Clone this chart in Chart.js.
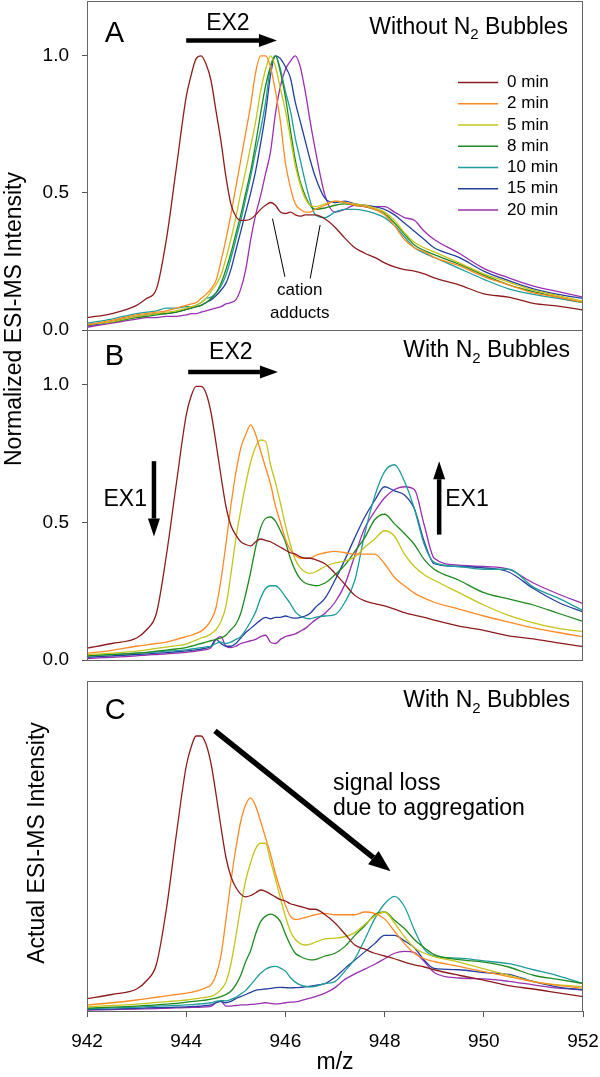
<!DOCTYPE html>
<html>
<head>
<meta charset="utf-8">
<script src="https://cdn.jsdelivr.net/npm/chart.js@4.4.1/dist/chart.umd.min.js"></script>
<style>
  html, body { margin: 0; padding: 0; background: #fff; }
  #wrap { position: relative; width: 600px; height: 1077px; overflow: hidden; font-family: "Liberation Sans", Arial, sans-serif; }
  .panel { position: absolute; left: 0; width: 600px; }
  .ytitle { position: absolute; text-align: center; white-space: nowrap; transform: rotate(-90deg); color: #000; }
</style>
</head>
<body>
<div id="wrap">
  <div class="panel" style="top:0;height:340px"><canvas id="chartA"></canvas></div>
  <div class="panel" style="top:330px;height:340px"><canvas id="chartB"></canvas></div>
  <div class="panel" style="top:670px;height:407px"><canvas id="chartC"></canvas></div>
  <div class="ytitle" style="left:-187px;top:306px;width:400px;height:26px;line-height:26px;font-size:23px">Normalized ESI-MS Intensity</div>
  <div class="ytitle" style="left:-164px;top:830px;width:400px;height:26px;line-height:26px;font-size:23px">Actual ESI-MS Intensity</div>
</div>
<script>
// m/z sampling points shared by every trace
const mz = [942.0, 942.5, 943.0, 943.2, 943.4, 943.6, 943.8,
  944.0, 944.1, 944.2, 944.3, 944.4, 944.5, 944.6, 944.7, 944.8, 944.9,
  945.0, 945.1, 945.2, 945.3, 945.4, 945.5, 945.6, 945.7, 945.8, 945.9,
  946.0, 946.1, 946.2, 946.3, 946.4, 946.5, 946.6,
  946.8, 947.0, 947.2, 947.4, 947.6, 947.8, 948.0,
  948.2, 948.4, 948.6, 948.8, 949.0,
  949.5, 950.0, 950.5, 951.0, 951.5, 952.0];

const times = ['0 min', '2 min', '5 min', '8 min', '10 min', '15 min', '20 min'];
const colors = ['#8E1C1C', '#FF8A24', '#C4C41C', '#1F8A1F', '#1F9C9C', '#24409E', '#9A2FB0'];
const yTicks = [0, 0.5, 1.0];
const xTicks = [942, 944, 946, 948, 950, 952];

// A: normalized, without N2 bubbles
const normA0 = [0.045, 0.06, 0.09, 0.115, 0.15, 0.33, 0.59,
  0.85, 0.93, 0.99, 1.0, 0.97, 0.91, 0.80, 0.69, 0.56, 0.46,
  0.415, 0.40, 0.40, 0.405, 0.42, 0.44, 0.455, 0.465, 0.455, 0.43,
  0.425, 0.43, 0.42, 0.415, 0.42, 0.42, 0.42,
  0.405, 0.375, 0.335, 0.30, 0.28, 0.265, 0.245,
  0.23, 0.22, 0.215, 0.205, 0.19,
  0.165, 0.132, 0.12, 0.097, 0.087, 0.073];
const normA2 = [0.018, 0.035, 0.055, 0.06, 0.065, 0.07, 0.08,
  0.09, 0.095, 0.10, 0.115, 0.13, 0.15, 0.18, 0.25, 0.33, 0.42,
  0.52, 0.62, 0.72, 0.82, 0.94, 1.0, 1.0, 0.96, 0.87, 0.76,
  0.61, 0.52, 0.46, 0.44, 0.43, 0.43, 0.44,
  0.455, 0.47, 0.465, 0.455, 0.45, 0.44, 0.42,
  0.38, 0.33, 0.30, 0.285, 0.265,
  0.235, 0.195, 0.165, 0.135, 0.12, 0.10];
const normA5 = [0.02, 0.03, 0.05, 0.055, 0.06, 0.065, 0.07,
  0.08, 0.085, 0.09, 0.10, 0.115, 0.14, 0.165, 0.20, 0.26, 0.33,
  0.41, 0.50, 0.58, 0.67, 0.76, 0.87, 0.95, 1.0, 0.96, 0.88,
  0.80, 0.70, 0.60, 0.53, 0.48, 0.455, 0.45,
  0.46, 0.47, 0.465, 0.46, 0.455, 0.445, 0.43,
  0.40, 0.355, 0.32, 0.30, 0.285,
  0.245, 0.205, 0.175, 0.145, 0.125, 0.105];
const normA8 = [0.02, 0.03, 0.045, 0.05, 0.055, 0.06, 0.065,
  0.075, 0.08, 0.085, 0.09, 0.10, 0.115, 0.135, 0.17, 0.22, 0.28,
  0.35, 0.42, 0.50, 0.58, 0.68, 0.79, 0.89, 0.96, 1.0, 0.94,
  0.85, 0.73, 0.62, 0.54, 0.49, 0.455, 0.44,
  0.445, 0.455, 0.46, 0.455, 0.45, 0.44, 0.425,
  0.39, 0.35, 0.31, 0.29, 0.275,
  0.24, 0.20, 0.165, 0.14, 0.12, 0.10];
const normA10 = [0.025, 0.04, 0.06, 0.065, 0.07, 0.08, 0.08,
  0.085, 0.085, 0.09, 0.10, 0.115, 0.12, 0.135, 0.16, 0.20, 0.26,
  0.33, 0.40, 0.48, 0.56, 0.65, 0.73, 0.83, 0.96, 1.0, 0.95,
  0.87, 0.80, 0.70, 0.62, 0.54, 0.47, 0.42,
  0.41, 0.43, 0.44, 0.44, 0.435, 0.425, 0.41,
  0.38, 0.34, 0.30, 0.28, 0.265,
  0.225, 0.185, 0.15, 0.13, 0.115, 0.10];
const normA15 = [0.015, 0.03, 0.05, 0.055, 0.06, 0.06, 0.065,
  0.075, 0.08, 0.085, 0.09, 0.10, 0.11, 0.125, 0.145, 0.17, 0.22,
  0.29, 0.36, 0.43, 0.50, 0.58, 0.68, 0.79, 0.93, 1.0, 0.99,
  0.96, 0.92, 0.83, 0.76, 0.69, 0.62, 0.56,
  0.48, 0.465, 0.47, 0.46, 0.455, 0.45, 0.44,
  0.42, 0.39, 0.36, 0.33, 0.30,
  0.265, 0.215, 0.18, 0.15, 0.13, 0.115];
const normA20 = [0.01, 0.025, 0.04, 0.045, 0.045, 0.05, 0.05,
  0.055, 0.06, 0.06, 0.065, 0.07, 0.075, 0.08, 0.085, 0.095, 0.10,
  0.11, 0.15, 0.22, 0.33, 0.42, 0.49, 0.57, 0.65, 0.79, 0.89,
  0.95, 0.98, 1.0, 0.96, 0.87, 0.76, 0.66,
  0.49, 0.43, 0.44, 0.455, 0.45, 0.45, 0.45,
  0.43, 0.41, 0.40, 0.36, 0.33,
  0.28, 0.225, 0.19, 0.16, 0.14, 0.12];

// B: normalized, with N2 bubbles
const normB0 = [0.043, 0.06, 0.08, 0.11, 0.17, 0.38, 0.64,
  0.89, 0.96, 0.995, 0.995, 0.97, 0.90, 0.79, 0.67, 0.56, 0.49,
  0.455, 0.43, 0.42, 0.415, 0.43, 0.44, 0.435, 0.43, 0.42, 0.41,
  0.40, 0.39, 0.385, 0.375, 0.37, 0.37, 0.365,
  0.35, 0.315, 0.275, 0.235, 0.215, 0.205, 0.197,
  0.185, 0.172, 0.163, 0.155, 0.145,
  0.123, 0.108, 0.088, 0.077, 0.062, 0.049];
const normB2 = [0.024, 0.035, 0.05, 0.055, 0.06, 0.065, 0.075,
  0.085, 0.09, 0.097, 0.105, 0.12, 0.145, 0.19, 0.29, 0.42, 0.56,
  0.68, 0.77, 0.82, 0.855, 0.82, 0.76, 0.70, 0.64, 0.56, 0.50,
  0.44, 0.40, 0.38, 0.37, 0.37, 0.37, 0.38,
  0.39, 0.395, 0.39, 0.385, 0.385, 0.385, 0.35,
  0.30, 0.27, 0.243, 0.225, 0.21,
  0.185, 0.16, 0.138, 0.117, 0.10, 0.085];
const normB5 = [0.02, 0.025, 0.032, 0.037, 0.042, 0.047, 0.052,
  0.058, 0.065, 0.072, 0.08, 0.085, 0.095, 0.11, 0.14, 0.195, 0.31,
  0.44, 0.545, 0.64, 0.72, 0.775, 0.80, 0.795, 0.71, 0.645, 0.57,
  0.49, 0.42, 0.365, 0.335, 0.32, 0.315, 0.32,
  0.34, 0.353, 0.36, 0.375, 0.41, 0.44, 0.47,
  0.45, 0.385, 0.34, 0.31, 0.29,
  0.245, 0.20, 0.162, 0.135, 0.115, 0.103];
const normB8 = [0.015, 0.02, 0.025, 0.028, 0.032, 0.036, 0.04,
  0.045, 0.05, 0.055, 0.06, 0.065, 0.07, 0.075, 0.08, 0.09, 0.11,
  0.13, 0.17, 0.24, 0.32, 0.41, 0.48, 0.515, 0.52, 0.505, 0.47,
  0.43, 0.37, 0.325, 0.295, 0.28, 0.274, 0.27,
  0.28, 0.31, 0.345, 0.395, 0.445, 0.51, 0.53,
  0.495, 0.46, 0.42, 0.365, 0.33,
  0.29, 0.245, 0.222, 0.20, 0.17, 0.14];
const normB10 = [0.015, 0.02, 0.025, 0.027, 0.03, 0.032, 0.034,
  0.037, 0.04, 0.042, 0.045, 0.048, 0.05, 0.06, 0.065, 0.06, 0.065,
  0.075, 0.085, 0.11, 0.14, 0.175, 0.225, 0.26, 0.27, 0.27, 0.255,
  0.23, 0.205, 0.175, 0.16, 0.152, 0.15, 0.155,
  0.16, 0.165, 0.21, 0.29, 0.46, 0.595, 0.685,
  0.71, 0.65, 0.55, 0.42, 0.355,
  0.34, 0.33, 0.33, 0.265, 0.225, 0.18];
const normB15 = [0.01, 0.015, 0.02, 0.022, 0.025, 0.027, 0.03,
  0.033, 0.035, 0.037, 0.04, 0.043, 0.05, 0.075, 0.06, 0.05, 0.05,
  0.06, 0.08, 0.10, 0.115, 0.13, 0.145, 0.155, 0.15, 0.155, 0.155,
  0.16, 0.155, 0.152, 0.155, 0.16, 0.17, 0.19,
  0.225, 0.29, 0.365, 0.445, 0.52, 0.58, 0.63,
  0.615, 0.60, 0.55, 0.43, 0.35,
  0.34, 0.335, 0.32, 0.26, 0.21, 0.175];
const normB20 = [0.005, 0.01, 0.015, 0.018, 0.02, 0.022, 0.025,
  0.028, 0.03, 0.032, 0.035, 0.038, 0.045, 0.075, 0.085, 0.05, 0.045,
  0.05, 0.06, 0.065, 0.07, 0.075, 0.085, 0.09, 0.065, 0.06, 0.075,
  0.085, 0.09, 0.095, 0.105, 0.115, 0.13, 0.145,
  0.17, 0.21, 0.275, 0.38, 0.48, 0.54, 0.59,
  0.62, 0.63, 0.62, 0.49, 0.37,
  0.345, 0.34, 0.33, 0.28, 0.24, 0.205];

// C: actual intensity, with N2 bubbles (same units as 0 min peak = 1)
const actC0 = [0.045, 0.06, 0.08, 0.11, 0.17, 0.37, 0.64,
  0.89, 0.96, 1.0, 1.0, 0.97, 0.90, 0.79, 0.67, 0.56, 0.49,
  0.45, 0.425, 0.415, 0.42, 0.43, 0.44, 0.435, 0.425, 0.415, 0.405,
  0.40, 0.39, 0.385, 0.38, 0.375, 0.37, 0.37,
  0.35, 0.32, 0.28, 0.24, 0.225, 0.21, 0.20,
  0.19, 0.178, 0.168, 0.16, 0.15,
  0.13, 0.112, 0.092, 0.08, 0.066, 0.052];
const actC2 = [0.022, 0.03, 0.04, 0.045, 0.05, 0.055, 0.06,
  0.065, 0.068, 0.072, 0.078, 0.085, 0.095, 0.13, 0.20, 0.33, 0.47,
  0.59, 0.69, 0.75, 0.775, 0.745, 0.69, 0.63, 0.57, 0.50, 0.44,
  0.385, 0.345, 0.333, 0.335, 0.34, 0.345, 0.35,
  0.355, 0.35, 0.35, 0.35, 0.36, 0.355, 0.335,
  0.29, 0.245, 0.21, 0.19, 0.18,
  0.162, 0.143, 0.125, 0.107, 0.093, 0.083];
const actC5 = [0.015, 0.02, 0.025, 0.028, 0.031, 0.034, 0.037,
  0.04, 0.042, 0.045, 0.048, 0.05, 0.053, 0.062, 0.078, 0.105, 0.17,
  0.27, 0.38, 0.475, 0.54, 0.59, 0.61, 0.61, 0.545, 0.48, 0.41,
  0.345, 0.29, 0.26, 0.245, 0.24, 0.243, 0.25,
  0.262, 0.265, 0.27, 0.285, 0.315, 0.345, 0.36,
  0.32, 0.27, 0.23, 0.21, 0.198,
  0.178, 0.153, 0.13, 0.107, 0.095, 0.089];
const actC8 = [0.01, 0.014, 0.018, 0.02, 0.022, 0.025, 0.028,
  0.032, 0.034, 0.036, 0.038, 0.04, 0.043, 0.047, 0.052, 0.06, 0.072,
  0.095, 0.13, 0.18, 0.22, 0.28, 0.325, 0.345, 0.352, 0.345, 0.325,
  0.28, 0.24, 0.21, 0.198, 0.19, 0.186, 0.187,
  0.20, 0.21, 0.235, 0.275, 0.31, 0.35, 0.36,
  0.33, 0.30, 0.26, 0.23, 0.205,
  0.187, 0.178, 0.16, 0.13, 0.115, 0.10];
const actC10 = [0.008, 0.011, 0.014, 0.016, 0.018, 0.019, 0.02,
  0.022, 0.023, 0.025, 0.026, 0.028, 0.03, 0.035, 0.038, 0.037, 0.042,
  0.05, 0.062, 0.075, 0.095, 0.117, 0.137, 0.152, 0.16, 0.162, 0.156,
  0.145, 0.122, 0.105, 0.095, 0.09, 0.088, 0.09,
  0.10, 0.107, 0.145, 0.19, 0.26, 0.335, 0.39,
  0.417, 0.38, 0.295, 0.225, 0.20,
  0.192, 0.182, 0.172, 0.15, 0.128, 0.10];
const actC15 = [0.005, 0.007, 0.01, 0.011, 0.012, 0.013, 0.014,
  0.015, 0.016, 0.017, 0.018, 0.02, 0.022, 0.03, 0.035, 0.03, 0.035,
  0.045, 0.052, 0.06, 0.068, 0.075, 0.078, 0.08, 0.082, 0.085, 0.086,
  0.085, 0.084, 0.085, 0.086, 0.088, 0.09, 0.093,
  0.10, 0.123, 0.155, 0.185, 0.215, 0.245, 0.275,
  0.275, 0.255, 0.23, 0.185, 0.155,
  0.15, 0.14, 0.133, 0.107, 0.087, 0.077];
const actC20 = [0.003, 0.005, 0.007, 0.008, 0.009, 0.01, 0.011,
  0.012, 0.013, 0.013, 0.014, 0.015, 0.017, 0.03, 0.035, 0.018, 0.018,
  0.02, 0.022, 0.022, 0.024, 0.025, 0.028, 0.03, 0.028, 0.026, 0.027,
  0.03, 0.032, 0.033, 0.037, 0.042, 0.047, 0.052,
  0.065, 0.085, 0.115, 0.135, 0.152, 0.17, 0.19,
  0.21, 0.217, 0.212, 0.18, 0.14,
  0.12, 0.117, 0.108, 0.095, 0.083, 0.077];

const FONT = '"Liberation Sans", Arial, sans-serif';
Chart.defaults.font.family = FONT;
Chart.defaults.color = '#000';

function font(px) { return px + 'px ' + FONT; }

function arrow(ctx, x1, y1, x2, y2, w, head, headW) {
  const a = Math.atan2(y2 - y1, x2 - x1);
  const bx = x2 - head * Math.cos(a), by = y2 - head * Math.sin(a);
  ctx.save();
  ctx.strokeStyle = '#000'; ctx.fillStyle = '#000'; ctx.lineWidth = w;
  ctx.beginPath(); ctx.moveTo(x1, y1); ctx.lineTo(bx, by); ctx.stroke();
  ctx.beginPath(); ctx.moveTo(x2, y2);
  ctx.lineTo(bx + headW / 2 * Math.sin(a), by - headW / 2 * Math.cos(a));
  ctx.lineTo(bx - headW / 2 * Math.sin(a), by + headW / 2 * Math.cos(a));
  ctx.closePath(); ctx.fill();
  ctx.restore();
}

// "<prefix> N2 Bubbles" with subscript, right aligned
function n2Title(ctx, prefix, xr, ym) {
  ctx.font = font(23); const w1 = ctx.measureText(prefix + ' N').width; const w3 = ctx.measureText(' Bubbles').width;
  ctx.font = font(15); const w2 = ctx.measureText('2').width;
  let x = xr - (w1 + w2 + w3);
  ctx.textAlign = 'left'; ctx.textBaseline = 'middle';
  ctx.font = font(23); ctx.fillText(prefix + ' N', x, ym); x += w1;
  ctx.font = font(15); ctx.fillText('2', x, ym + 8); x += w2;
  ctx.font = font(23); ctx.fillText(' Bubbles', x, ym);
}

function text(ctx, s, x, y, px, align) {
  ctx.font = font(px); ctx.textAlign = align || 'center'; ctx.textBaseline = 'middle';
  ctx.fillText(s, x, y);
}

const notes = {
  chartA(c, ctx, X, Y) {
    text(ctx, 'A', X(942.36), Y(1.078), 29, 'left');
    text(ctx, 'EX2', X(944.84), Y(1.118), 23);
    arrow(ctx, X(944.0), Y(1.056), X(945.83), Y(1.056), 4.5, 18, 13);
    n2Title(ctx, 'Without', X(951.7), Y(1.104));
    times.forEach((t, i) => {
      const v = 0.903 - i * 0.0776;
      ctx.save(); ctx.strokeStyle = colors[i]; ctx.lineWidth = 1.5;
      ctx.beginPath(); ctx.moveTo(X(949.48), Y(v)); ctx.lineTo(X(950.29), Y(v)); ctx.stroke(); ctx.restore();
      text(ctx, t, X(950.47), Y(v), 17, 'left');
    });
    ctx.save(); ctx.strokeStyle = '#000'; ctx.lineWidth = 1;
    ctx.beginPath();
    ctx.moveTo(X(945.74), Y(0.406)); ctx.lineTo(X(945.99), Y(0.194));
    ctx.moveTo(X(946.70), Y(0.383)); ctx.lineTo(X(946.50), Y(0.188));
    ctx.stroke(); ctx.restore();
    text(ctx, 'cation', X(946.29), Y(0.146), 17);
    text(ctx, 'adducts', X(946.29), Y(0.062), 17);
  },
  chartB(c, ctx, X, Y) {
    text(ctx, 'B', X(942.36), Y(1.102), 29, 'left');
    text(ctx, 'EX2', X(944.9), Y(1.117), 23);
    arrow(ctx, X(944.04), Y(1.047), X(945.85), Y(1.047), 4.5, 18, 13);
    n2Title(ctx, 'With', X(951.74), Y(1.124));
    text(ctx, 'EX1', X(942.77), Y(0.584), 23);
    arrow(ctx, X(943.35), Y(0.723), X(943.35), Y(0.449), 4.5, 18, 12);
    text(ctx, 'EX1', X(949.66), Y(0.584), 23);
    arrow(ctx, X(949.10), Y(0.456), X(949.10), Y(0.723), 4.5, 18, 12);
  },
  chartC(c, ctx, X, Y) {
    text(ctx, 'C', X(942.36), Y(1.091), 29, 'left');
    arrow(ctx, X(944.58), Y(1.019), X(948.12), Y(0.508), 5.5, 22, 17);
    text(ctx, 'signal loss', X(946.96), Y(0.825), 23, 'left');
    text(ctx, 'due to aggregation', X(946.96), Y(0.734), 23, 'left');
    n2Title(ctx, 'With', X(951.74), Y(1.128));
  }
};

const framePlugin = {
  id: 'frame',
  afterDraw(c) {
    const {ctx, chartArea: a} = c;
    ctx.save();
    ctx.strokeStyle = '#666'; ctx.lineWidth = 1;
    ctx.strokeRect(Math.round(a.left) + 0.5, Math.round(a.top) + 0.5, Math.round(a.right - a.left) - 1, Math.round(a.bottom - a.top));
    ctx.fillStyle = '#000';
    const X = v => c.scales.x.getPixelForValue(v);
    const Y = v => c.scales.y.getPixelForValue(v);
    notes[c.canvas.id](c, ctx, X, Y);
    ctx.restore();
  }
};

function makeChart(id, sets, cfg) {
  return new Chart(document.getElementById(id), {
    type: 'line',
    data: {
      datasets: sets.map((arr, i) => ({
        label: times[i],
        data: mz.map((x, k) => ({x: x, y: arr[k]})),
        borderColor: colors[i],
        borderWidth: 1.3,
        pointRadius: 0,
        fill: false,
        cubicInterpolationMode: 'monotone'
      }))
    },
    options: {
      responsive: true,
      maintainAspectRatio: false,
      animation: false,
      layout: {padding: cfg.padding},
      plugins: {legend: {display: false}, tooltip: {enabled: false}},
      scales: {
        x: {
          type: 'linear', min: 942, max: 952,
          display: cfg.showX,
          afterBuildTicks: s => { s.ticks = xTicks.map(v => ({value: v})); },
          afterFit: s => { if (cfg.showX) { s.height = 66; s.paddingLeft = 0; s.paddingRight = 0; } },
          grid: {drawOnChartArea: false, drawTicks: true, tickLength: 6, color: '#555'},
          border: {display: false},
          ticks: {font: {size: 19}, color: '#000', padding: 13, maxRotation: 0},
          title: {display: true, text: 'm/z', font: {size: 23}, color: '#000', padding: {top: 0, bottom: 1}}
        },
        y: {
          min: 0, max: 1.2,
          display: cfg.showY,
          afterBuildTicks: s => { s.ticks = yTicks.map(v => ({value: v})); },
          afterFit: s => { if (cfg.showY) { s.width = 87; s.paddingTop = 0; s.paddingBottom = 0; } },
          grid: {drawOnChartArea: false, drawTicks: true, tickLength: 5, color: '#555'},
          border: {display: false},
          ticks: {font: {size: 19}, color: '#000', padding: 13, callback: v => v.toFixed(1)}
        }
      }
    },
    plugins: [framePlugin]
  });
}

makeChart('chartA', [normA0, normA2, normA5, normA8, normA10, normA15, normA20],
  {showX: false, showY: true, padding: {left: 0, right: 17, top: 1, bottom: 10}});
makeChart('chartB', [normB0, normB2, normB5, normB8, normB10, normB15, normB20],
  {showX: false, showY: true, padding: {left: 0, right: 17, top: 0, bottom: 10}});
makeChart('chartC', [actC0, actC2, actC5, actC8, actC10, actC15, actC20],
  {showX: true, showY: false, padding: {left: 87, right: 17, top: 11, bottom: 0}});
</script>
</body>
</html>
